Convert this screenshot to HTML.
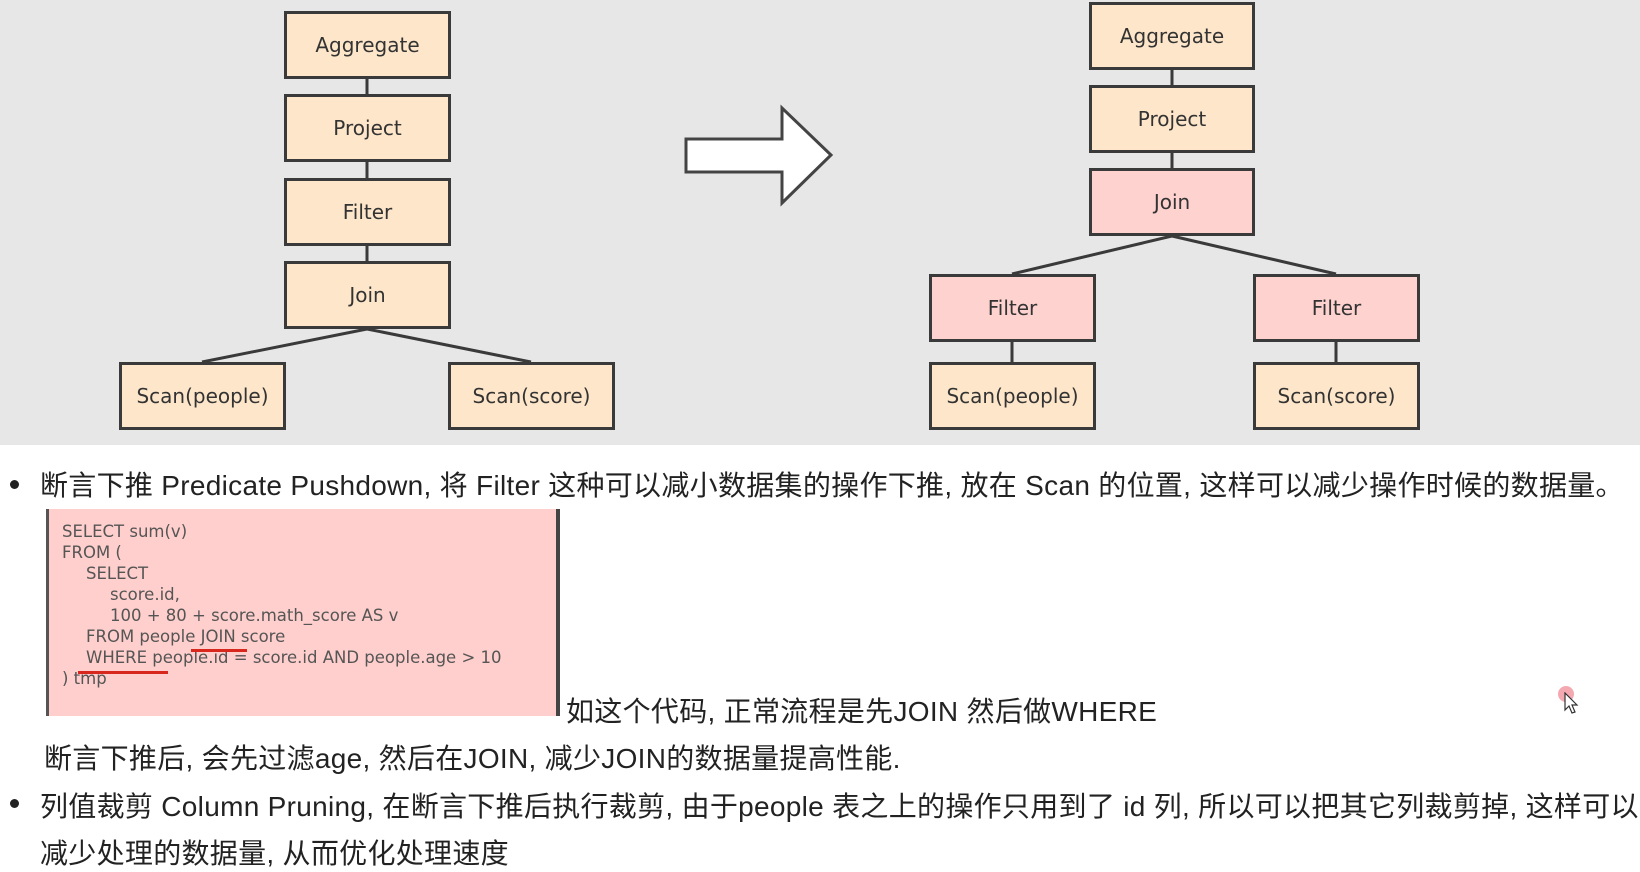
<!DOCTYPE html>
<html><head><meta charset="utf-8"><style>
body{margin:0;width:1640px;height:866px;background:#fff;position:relative;overflow:hidden;font-family:"Liberation Sans","Noto Sans CJK SC",sans-serif;color:#2a2a2a}
.bg{position:absolute;left:0;top:0;width:1640px;height:445px;background:#e8e7e8}
.b{position:absolute;box-sizing:border-box;border:3px solid #3a3a3a;background:#fde6c9;display:flex;align-items:center;justify-content:center;font-family:"DejaVu Sans",sans-serif;font-size:20px;color:#333}
.p{background:#fdd2cf}
.t{position:absolute;white-space:nowrap;font-size:28px;letter-spacing:0.3px;color:#222}
.dot{position:absolute;width:9px;height:9px;border-radius:50%;background:#222}
.code{position:absolute;left:46px;top:509px;width:514px;height:207px;background:#fecfcc;border-left:3px solid #555;border-right:4px solid #444;box-sizing:border-box;font-family:"DejaVu Sans",sans-serif;font-size:16.5px;color:#555;line-height:21px;padding:12px 0 0 13px;white-space:pre}
.code div{height:21px}
</style></head><body>
<div class="bg"></div>
<svg style="position:absolute;left:0;top:0" width="1640" height="445">
<g stroke="#3a3a3a" stroke-width="3">
<line x1="367" y1="78" x2="367" y2="94"/><line x1="367" y1="162" x2="367" y2="178"/><line x1="367" y1="245" x2="367" y2="261"/>
<line x1="367" y1="329" x2="202" y2="362"/><line x1="367" y1="329" x2="531" y2="362"/>
<line x1="1172" y1="69" x2="1172" y2="86"/><line x1="1172" y1="153" x2="1172" y2="168"/>
<line x1="1172" y1="236" x2="1012" y2="274"/><line x1="1172" y1="236" x2="1336" y2="274"/>
<line x1="1012" y1="341" x2="1012" y2="362"/><line x1="1336" y1="341" x2="1336" y2="362"/>
</g>
<polygon points="686,139 782,139 782,108 831,155 782,203 782,172 686,172" fill="#fff" stroke="#444" stroke-width="3"/>
</svg>
<div class="b" style="left:284px;top:11px;width:167px;height:68px">Aggregate</div>
<div class="b" style="left:284px;top:94px;width:167px;height:68px">Project</div>
<div class="b" style="left:284px;top:178px;width:167px;height:68px">Filter</div>
<div class="b" style="left:284px;top:261px;width:167px;height:68px">Join</div>
<div class="b" style="left:119px;top:362px;width:167px;height:68px">Scan(people)</div>
<div class="b" style="left:448px;top:362px;width:167px;height:68px">Scan(score)</div>
<div class="b" style="left:1089px;top:2px;width:166px;height:68px">Aggregate</div>
<div class="b" style="left:1089px;top:85px;width:166px;height:68px">Project</div>
<div class="b p" style="left:1089px;top:168px;width:166px;height:68px">Join</div>
<div class="b p" style="left:929px;top:274px;width:167px;height:68px">Filter</div>
<div class="b p" style="left:1253px;top:274px;width:167px;height:68px">Filter</div>
<div class="b" style="left:929px;top:362px;width:167px;height:68px">Scan(people)</div>
<div class="b" style="left:1253px;top:362px;width:167px;height:68px">Scan(score)</div>

<div class="dot" style="left:10px;top:480px"></div>
<div class="t" style="left:40px;top:464px">断言下推 Predicate Pushdown, 将 Filter 这种可以减小数据集的操作下推, 放在 Scan 的位置, 这样可以减少操作时候的数据量。</div>
<div class="code"><div>SELECT sum(v)</div><div>FROM (</div><div style="padding-left:24px">SELECT</div><div style="padding-left:48px">score.id,</div><div style="padding-left:48px">100 + 80 + score.math_score AS v</div><div style="padding-left:24px">FROM people JOIN score</div><div style="padding-left:24px">WHERE people.id = score.id AND people.age &gt; 10</div><div>) tmp</div></div>
<div style="position:absolute;left:191px;top:649px;width:56px;height:3px;background:#d8281e"></div>
<div style="position:absolute;left:78px;top:671px;width:90px;height:3px;background:#d8281e"></div>
<div class="t" style="left:566px;top:690px">如这个代码, 正常流程是先JOIN 然后做WHERE</div>
<div class="t" style="left:44px;top:737px">断言下推后, 会先过滤age, 然后在JOIN, 减少JOIN的数据量提高性能.</div>
<div class="dot" style="left:10px;top:799px"></div>
<div class="t" style="left:40px;top:785px">列值裁剪 Column Pruning, 在断言下推后执行裁剪, 由于people 表之上的操作只用到了 id 列, 所以可以把其它列裁剪掉, 这样可以</div>
<div class="t" style="left:40px;top:832px">减少处理的数据量, 从而优化处理速度</div>
<div style="position:absolute;left:1558px;top:686px;width:16px;height:16px;border-radius:50%;background:#f4a8b0"></div>
<svg style="position:absolute;left:1564px;top:692px" width="16" height="24"><polygon points="1,1 1,18 5,14 8,21 11,20 8,13 13,13" fill="#fff" stroke="#333" stroke-width="1.2"/></svg>
</body></html>
